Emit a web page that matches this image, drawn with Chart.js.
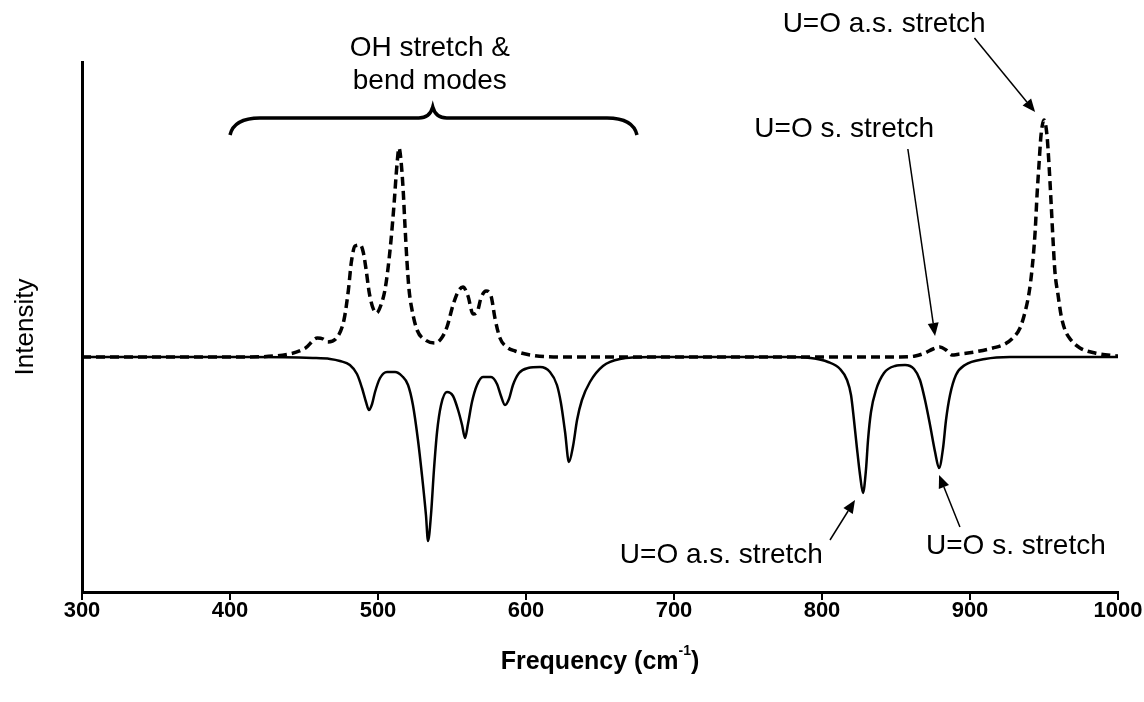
<!DOCTYPE html>
<html lang="en">
<head>
  <meta charset="UTF-8" />
  <title>U=O and OH modes spectrum</title>
  <script src="https://cdn.jsdelivr.net/npm/chart.js"></script>
  <style>
    * { box-sizing: border-box; }
    html, body { margin: 0; padding: 0; background: #fff; overflow: hidden; }
    canvas { display: block; }
  </style>
</head>
<body>
  <canvas id="spectrum" width="1144" height="702"></canvas>

  <script>
    // Frequency ticks (cm-1)
    const xTicks = [300, 400, 500, 600, 700, 800, 900, 1000];

    // Dashed spectrum (positive intensities)
    const freqUp = [300, 407, 440, 451, 459, 463, 466, 472, 477, 480, 482, 484.5, 488, 490, 492, 494, 496.6,
      499, 502, 504.7, 506.8, 508.8, 510.8, 512.8, 514.2, 515.5, 517, 518.2, 519.6, 521, 523, 526.4, 532,
      538.5, 543, 546.6, 550.7, 554, 557.4, 560.8, 564.2, 567, 569.6, 573, 576.4, 579, 582.4, 587, 592.6,
      603, 623, 853, 863, 869.6, 875, 879.7, 883.8, 887.8, 893, 903, 915.5, 923.6, 929, 933.8, 937.2,
      940, 942, 944, 945.3, 946.6, 948, 950, 952, 953.4, 954.7, 956.1, 957.4, 959.5, 961.5, 964.2, 968.2,
      974.3, 984.5, 1000];
    const intUp = [0, 0, 3, 9, 19, 18, 15, 19, 37, 67, 95, 111, 112, 105, 87, 65, 49,
      44, 52, 67, 89, 117, 152, 192, 209, 197, 167, 132, 95, 67, 47, 27, 17,
      14, 19, 30, 52, 65, 70, 61, 43, 45, 59, 66, 61, 39, 19, 10, 6,
      2, 0, 0, 1, 4, 8, 10, 7, 2, 3, 5, 9, 13, 19, 29, 45,
      65, 89, 125, 162, 192, 222, 237, 222, 192, 157, 117, 85, 62, 42, 27, 17,
      9, 4, 1];

    // Solid spectrum (negative intensities)
    const freqDown = [300, 413.5, 456, 467.6, 474.3, 481, 485.8, 489.2, 491.9, 493.9, 496, 498, 501.4, 506.1,
      511.5, 516.2, 520.3, 523.6, 527, 529.7, 532.4, 533.8, 535.8, 537.8, 539.9, 542.6, 546.6, 550.7, 554.1,
      556.8, 558.8, 560.8, 563.5, 566.9, 570.9, 576.4, 580.4, 583.1, 585.8, 588.5, 591.2, 595.3, 601.4,
      609.5, 616.2, 620.9, 623.6, 626.4, 629, 631.8, 634.5, 637.8, 643.2, 652, 663.5, 683.8,
      778.4, 791.9, 804.1, 812.2, 816.9, 819.6, 821.6, 823.6, 825.7, 827.7, 829.7, 831.1, 833.1, 836.5,
      841.9, 849.3, 856.1, 862.2, 866.2, 869.6, 873, 876.4, 879.1, 881.8, 883.8, 886.5, 890.5, 896.6,
      910.1, 927, 1000];
    const intDown = [0, 0, -1, -2, -4, -8, -17, -31, -45, -53, -47, -35, -21, -15,
      -15, -19, -28, -48, -83, -118, -158, -184, -158, -113, -75, -48, -35, -39, -53,
      -68, -81, -67, -45, -28, -20, -20, -27, -39, -48, -42, -28, -16, -11,
      -10, -15, -28, -46, -75, -105, -89, -63, -43, -25, -9, -2, 0,
      0, -1, -5, -12, -23, -38, -63, -91, -118, -136, -113, -83, -55, -33,
      -16, -9, -8, -12, -23, -43, -68, -95, -111, -91, -63, -38, -18, -8,
      -2, 0, 0];

    const FONT = "'Liberation Sans', Arial, Helvetica, sans-serif";

    function toPoints(xs, ys) {
      return xs.map((x, i) => ({ x: x, y: ys[i] }));
    }

    // Labels, arrows and the brace, placed in data units
    const notes = {
      arrows: [
        { from: [903, 319], to: [944, 245] },
        { from: [858, 208], to: [876.4, 21] },
        { from: [805.4, -183], to: [822.3, -143] },
        { from: [893.2, -170], to: [879.1, -118] }
      ],
      labels: [
        { text: 'OH stretch &', at: [535, 309] },
        { text: 'bend modes', at: [535, 276] },
        { text: 'U=O a.s. stretch', at: [842, 333] },
        { text: 'U=O s. stretch', at: [815, 228] },
        { text: 'U=O a.s. stretch', at: [732, -198] },
        { text: 'U=O s. stretch', at: [931, -189] }
      ],
      brace: { left: 400, mid: 537, right: 675, low: 222, high: 239, tip: 250 }
    };

    function arrow(ctx, x1, y1, x2, y2) {
      const ang = Math.atan2(y2 - y1, x2 - x1);
      const len = 13, half = 5.5;
      const bx = x2 - len * Math.cos(ang), by = y2 - len * Math.sin(ang);
      ctx.beginPath();
      ctx.moveTo(x1, y1);
      ctx.lineTo(bx, by);
      ctx.stroke();
      ctx.beginPath();
      ctx.moveTo(x2, y2);
      ctx.lineTo(bx + half * Math.sin(ang), by - half * Math.cos(ang));
      ctx.lineTo(bx - half * Math.sin(ang), by + half * Math.cos(ang));
      ctx.closePath();
      ctx.fill();
    }

    const annotate = {
      id: 'annotate',
      afterDraw(chart) {
        const ctx = chart.ctx;
        const sx = chart.scales.x, sy = chart.scales.y;
        const px = v => sx.getPixelForValue(v), py = v => sy.getPixelForValue(v);
        ctx.save();
        ctx.fillStyle = '#000';
        ctx.strokeStyle = '#000';

        // brace over the OH region
        const b = notes.brace;
        const L = px(b.left), M = px(b.mid), R = px(b.right);
        const yl = py(b.low), yh = py(b.high), yt = py(b.tip);
        ctx.lineWidth = 3.5;
        ctx.beginPath();
        ctx.moveTo(L, yl);
        ctx.quadraticCurveTo(L + 4, yh, L + 30, yh);
        ctx.lineTo(M - 14, yh);
        ctx.quadraticCurveTo(M - 3, yh, M, yt);
        ctx.quadraticCurveTo(M + 3, yh, M + 14, yh);
        ctx.lineTo(R - 30, yh);
        ctx.quadraticCurveTo(R - 4, yh, R, yl);
        ctx.stroke();

        // arrows
        ctx.lineWidth = 1.5;
        notes.arrows.forEach(a => arrow(ctx, px(a.from[0]), py(a.from[1]), px(a.to[0]), py(a.to[1])));

        // labels
        ctx.font = '28px ' + FONT;
        ctx.textAlign = 'center';
        ctx.textBaseline = 'middle';
        notes.labels.forEach(l => ctx.fillText(l.text, px(l.at[0]), py(l.at[1])));

        // y title
        ctx.save();
        ctx.translate(26, py(30));
        ctx.rotate(-Math.PI / 2);
        ctx.font = '26px ' + FONT;
        ctx.fillText('Intensity', 0, 0);
        ctx.restore();

        // x title with superscript
        ctx.font = 'bold 25px ' + FONT;
        const main = 'Frequency (cm', sup = '-1', end = ')';
        const w1 = ctx.measureText(main).width;
        ctx.font = 'bold 14px ' + FONT;
        const w2 = ctx.measureText(sup).width;
        ctx.font = 'bold 25px ' + FONT;
        const w3 = ctx.measureText(end).width;
        let x0 = (px(300) + px(1000)) / 2 - (w1 + w2 + w3) / 2;
        const ty = 662;
        ctx.textAlign = 'left';
        ctx.fillText(main, x0, ty);
        ctx.font = 'bold 14px ' + FONT;
        ctx.fillText(sup, x0 + w1, ty - 11);
        ctx.font = 'bold 25px ' + FONT;
        ctx.fillText(end, x0 + w1 + w2, ty);
        ctx.restore();
      }
    };

    const ctx = document.getElementById('spectrum').getContext('2d');
    new Chart(ctx, {
      type: 'line',
      data: {
        datasets: [
          {
            label: 'calculated (solid)',
            data: toPoints(freqDown, intDown),
            borderColor: '#000',
            borderWidth: 2.5,
            pointRadius: 0,
            cubicInterpolationMode: 'monotone',
            fill: false
          },
          {
            label: 'calculated (dashed)',
            data: toPoints(freqUp, intUp),
            borderColor: '#000',
            borderWidth: 3.5,
            borderDash: [9, 5],
            pointRadius: 0,
            cubicInterpolationMode: 'monotone',
            fill: false
          }
        ]
      },
      options: {
        responsive: false,
        animation: false,
        layout: { padding: { top: 62, right: 26, left: 0, bottom: 0 } },
        plugins: {
          legend: { display: false },
          tooltip: { enabled: false }
        },
        scales: {
          x: {
            type: 'linear',
            min: 300,
            max: 1000,
            afterBuildTicks: s => { s.ticks = xTicks.map(v => ({ value: v })); },
            afterFit: s => { s.height = 110; },
            grid: { drawOnChartArea: false, drawTicks: true, tickLength: 8, color: '#000', lineWidth: 2 },
            border: { display: true, color: '#000', width: 3 },
            ticks: {
              color: '#000',
              padding: -2,
              maxRotation: 0,
              callback: v => String(v),
              font: { family: FONT, size: 22, weight: 'bold' }
            }
          },
          y: {
            type: 'linear',
            min: -235,
            max: 295,
            afterFit: s => { s.width = 82; },
            grid: { display: false },
            border: { display: true, color: '#000', width: 3 },
            ticks: { display: false }
          }
        }
      },
      plugins: [annotate]
    });
  </script>
</body>
</html>
